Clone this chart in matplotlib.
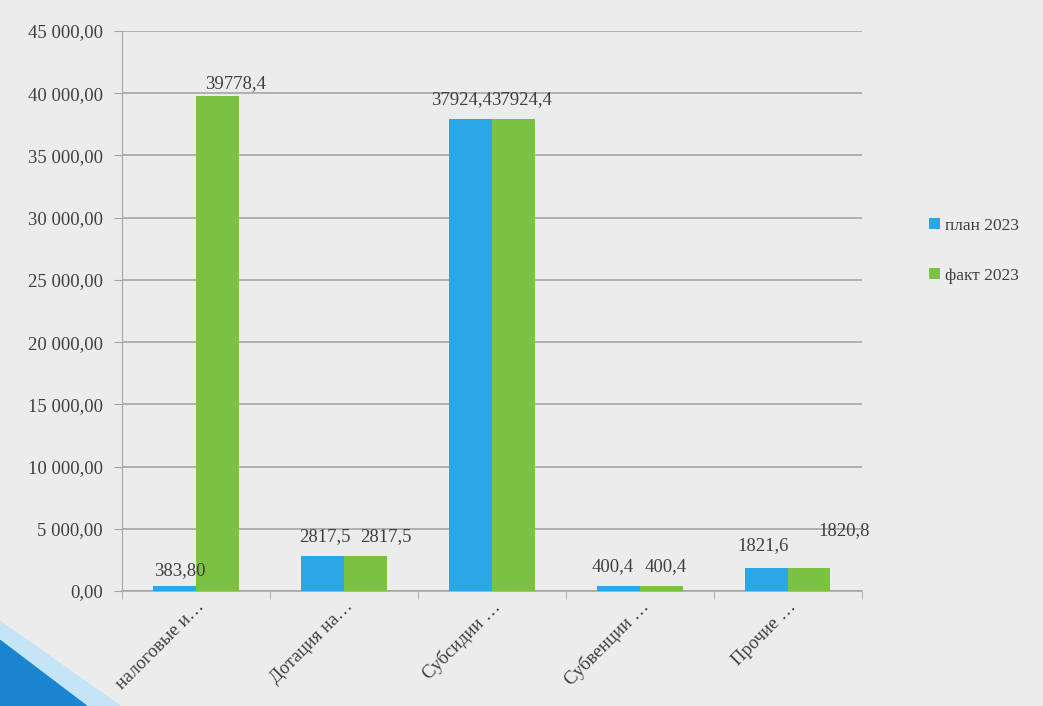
import matplotlib.pyplot as plt
import matplotlib.patches as mpatches
import numpy as np

categories = ['налоговые и…', 'Дотация на…', 'Субсидии …', 'Субвенции …', 'Прочие …']
plan_2023 = [383.80, 2817.5, 37924.4, 400.4, 1821.6]
fact_2023 = [39778.4, 2817.5, 37924.4, 400.4, 1820.8]
plan_labels = ['383,80', '2817,5', '37924,4', '400,4', '1821,6']
fact_labels = ['39778,4', '2817,5', '37924,4', '400,4', '1820,8']
series_names = ['план 2023', 'факт 2023']

plt.rcParams['font.family'] = ['Liberation Serif', 'DejaVu Serif']

blue = '#2aa8e6'
green = '#7cc242'
fs = 13.5

fig = plt.figure(figsize=(10.43, 7.06), dpi=100, facecolor='#ececec')

# decorative stripe bottom-left
fig.patches.append(mpatches.Polygon([(0, 0), (0, 0.12), (0.115, 0)], closed=True,
                                    transform=fig.transFigure, color='#c4e5f7', zorder=0))
fig.patches.append(mpatches.Polygon([(0, 0), (0, 0.093), (0.083, 0)], closed=True,
                                    transform=fig.transFigure, color='#1b84d0', zorder=0))

ax = fig.add_axes([0.117, 0.163, 0.709, 0.793])
ax.set_facecolor('none')

x = np.arange(len(categories))
w = 0.29
b1 = ax.bar(x - w / 2, plan_2023, w, color=blue, label=series_names[0], zorder=3)
b2 = ax.bar(x + w / 2, fact_2023, w, color=green, label=series_names[1], zorder=3)

# data labels, offsets (points) roughly as placed in the original
plan_off = [(4, 11), (2, 14), (-6, 14), (-4, 14), (-2, 16)]
fact_off = [(13, 9), (15, 14), (6, 14), (3, 14), (25, 27)]
for i in range(len(categories)):
    ax.annotate(plan_labels[i], (x[i] - w / 2, plan_2023[i]), xytext=plan_off[i],
                textcoords='offset points', ha='center', va='center', fontsize=fs,
                color='#404040', zorder=4)
    ax.annotate(fact_labels[i], (x[i] + w / 2, fact_2023[i]), xytext=fact_off[i],
                textcoords='offset points', ha='center', va='center', fontsize=fs,
                color='#404040', zorder=4)

ax.set_xlim(-0.5, len(categories) - 0.5)
ax.set_ylim(0, 45000)
ax.set_yticks(np.arange(0, 45001, 5000))
ax.set_yticklabels([f'{v:,.2f}'.replace(',', ' ').replace('.', ',') for v in np.arange(0, 45001, 5000)],
                   fontsize=fs, color='#404040')
ax.yaxis.grid(True, color='#a6a6a6', linewidth=1.2, zorder=0)
ax.tick_params(axis='y', length=6, color='#a6a6a6', pad=8)

ax.set_xticks(x)
ax.set_xticklabels(categories, rotation=45, ha='right', rotation_mode='anchor',
                   fontsize=fs, color='#404040')
ax.tick_params(axis='x', which='major', length=0, pad=5)
ax.set_xticks(np.arange(-0.5, len(categories), 1), minor=True)
ax.tick_params(axis='x', which='minor', length=6, color='#a6a6a6')

for s in ['top', 'right']:
    ax.spines[s].set_visible(False)
ax.spines['left'].set_color('#a6a6a6')
ax.spines['bottom'].set_color('#a6a6a6')
ax.spines['bottom'].set_linewidth(1.2)

fig.legend(handles=[b1, b2], loc='center left', bbox_to_anchor=(0.876, 0.645),
           frameon=False, fontsize=fs - 1, handlelength=0.6, handleheight=0.6,
           handletextpad=0.3, labelspacing=1.95, labelcolor='#404040')

fig.savefig('out.png', dpi=100, facecolor=fig.get_facecolor())
